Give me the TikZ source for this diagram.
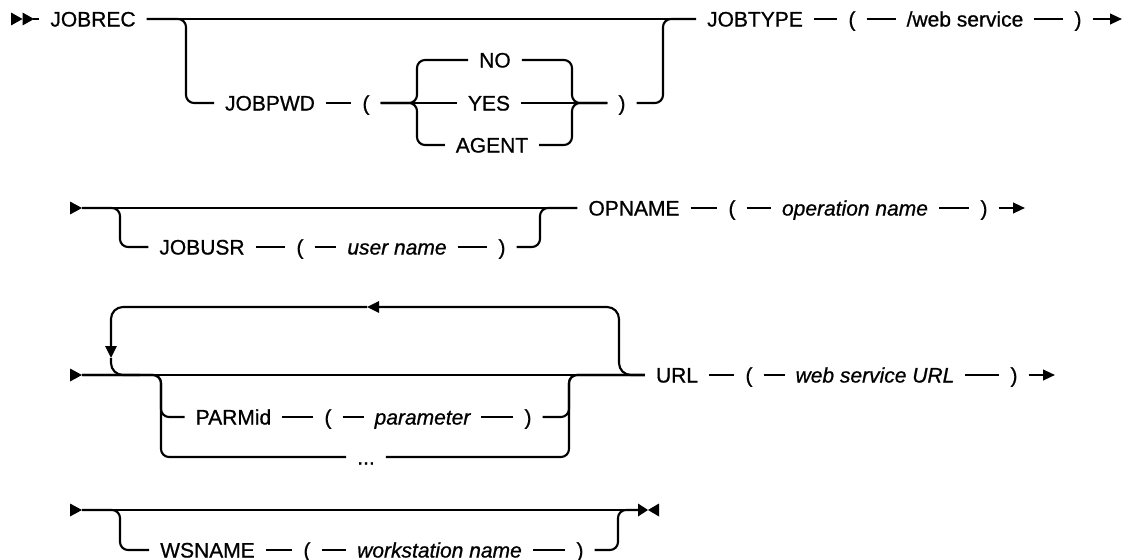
\documentclass[tikz,border=0pt]{standalone}
\usepackage{fontspec}
\setmainfont{Liberation Sans}[FakeBold=0.8, ItalicFeatures={FakeBold=0.8}]
\usetikzlibrary{arrows.meta}
\begin{document}
\begin{tikzpicture}[x=0.75pt,y=-0.75pt, line width=1.6pt,
  kw/.style={inner xsep=7.5pt, inner ysep=0pt, text height=11.3pt, text depth=0pt,
             font=\fontsize{15.75}{18}\selectfont},
  var/.style={kw, font=\fontsize{15.75}{18}\selectfont\itshape},
  rc/.style={rounded corners=6pt},
  rcl/.style={rounded corners=9pt},
  tip/.style={-{Triangle[length=9pt,width=8pt]}},
  ltip/.style={-{Triangle[length=9pt,width=8.5pt]}},
]
\useasboundingbox (0,0) rectangle (1125,560);

% ---------- Row 1 ----------
\fill (11,12.5) -- (22.5,19) -- (11,25.5) -- cycle;
\fill (22.5,12.5) -- (34,19) -- (22.5,25.5) -- cycle;
\coordinate (s1) at (33,19);
\coordinate (e1) at (1122,19);
\node[kw] (jobrec) at (93,19) {JOBREC};
\node[kw] (jobtype) at (755,19) {JOBTYPE};
\node[kw] (jobpwd) at (270,103) {JOBPWD};
\node[kw] (lp1) at (366,103) {(};
\node[kw] (no) at (495,60) {NO};
\node[kw] (yes) at (489,103) {YES};
\node[kw] (agent) at (492,145) {AGENT};
\node[kw] (rp1) at (622,103) {)};
\node[kw] (lp1b) at (852,19) {(};
\node[kw] (websvc) at (965,19) {/web service};
\node[kw] (rp1b) at (1078,19) {)};
\coordinate (b1) at (186,103);
\coordinate (r1) at (663,103);
\coordinate (cLt) at (417,60);
\coordinate (cLb) at (417,145);
\coordinate (cRm) at (572,103);

\draw (s1) -- (jobrec);
\draw (jobrec) -- (jobtype);
\draw[rc] (jobrec) -| (b1) -- (jobpwd);
\draw (jobpwd) -- (lp1);
\draw (lp1) -- (yes);
\draw[rc] (lp1) -| (cLt) -- (no);
\draw[rc] (lp1) -| (cLb) -- (agent);
\draw (yes) -- (rp1);
\draw[rc] (no) -| (cRm) -- (rp1);
\draw[rc] (agent) -| (cRm) -- (rp1);
\draw[rc] (rp1) -- (r1) |- (jobtype);
\draw (jobtype) -- (lp1b);
\draw (lp1b) -- (websvc);
\draw (websvc) -- (rp1b);
\draw[tip] (rp1b) -- (e1);

% ---------- Row 2 ----------
\fill (70,201.5) -- (82,208) -- (70,214.5) -- cycle;
\coordinate (s2) at (82,208);
\coordinate (e2) at (1025,208);
\node[kw] (opname) at (634,208) {OPNAME};
\node[kw] (jobusr) at (202,247) {JOBUSR};
\node[kw] (lp2) at (300,247) {(};
\node[var] (user) at (397,247) {user name};
\node[kw] (rp2) at (502,247) {)};
\node[kw] (lp2b) at (732,208) {(};
\node[var] (opn) at (855,208) {operation name};
\node[kw] (rp2b) at (984,208) {)};
\coordinate (b2) at (120,247);
\coordinate (r2) at (540,247);

\draw (s2) -- (opname);
\draw[rc] (s2) -| (b2) -- (jobusr);
\draw (jobusr) -- (lp2);
\draw (lp2) -- (user);
\draw (user) -- (rp2);
\draw[rc] (rp2) -- (r2) |- (opname);
\draw (opname) -- (lp2b);
\draw (lp2b) -- (opn);
\draw (opn) -- (rp2b);
\draw[tip] (rp2b) -- (e2);

% ---------- Row 3 ----------
\fill (70,368.5) -- (82,375) -- (70,381.5) -- cycle;
\coordinate (s3) at (82,375);
\coordinate (e3) at (1055,375);
\node[kw] (url) at (677,375) {URL};
\node[kw] (parmid) at (233.5,417) {PARMid};
\node[kw] (lp3) at (328,417) {(};
\node[var] (param) at (422.5,417) {parameter};
\node[kw] (rp3) at (528,417) {)};
\node[kw] (dots) at (366,457) {...};
\node[kw] (lp3b) at (749,375) {(};
\node[var] (wsurl) at (875,375) {web service URL};
\node[kw] (rp3b) at (1014,375) {)};
\coordinate (Lbr) at (619,375);
\coordinate (Ltop) at (367,307);
\coordinate (Ldn) at (111,358);
\coordinate (Lend) at (140,375);
\coordinate (b3a) at (161,417);
\coordinate (b3b) at (161,457);
\coordinate (c3a) at (569,417);
\coordinate (c3b) at (569,457);

\draw (s3) -- (url);
\draw[rcl, ltip] (url) -- (Lbr) |- (Ltop);
\draw[rcl, ltip] (Ltop) -| (Ldn);
\draw[rcl] (Ldn) |- (Lend);
\draw[rc] (s3) -| (b3a) -- (parmid);
\draw[rc] (s3) -| (b3b) -- (dots);
\draw (parmid) -- (lp3);
\draw (lp3) -- (param);
\draw (param) -- (rp3);
\draw[rc] (rp3) -- (c3a) |- (url);
\draw[rc] (dots) -- (c3b) |- (url);
\draw (url) -- (lp3b);
\draw (lp3b) -- (wsurl);
\draw (wsurl) -- (rp3b);
\draw[tip] (rp3b) -- (e3);

% ---------- Row 4 ----------
\fill (70,503.5) -- (82,510) -- (70,516.5) -- cycle;
\coordinate (s4) at (82,510);
\coordinate (e4) at (638,510);
\node[kw] (wsname) at (207.5,550) {WSNAME};
\node[kw] (lp4) at (307,550) {(};
\node[var] (wsn) at (439.5,550) {workstation name};
\node[kw] (rp4) at (580,550) {)};
\coordinate (b4) at (120,550);
\coordinate (c4) at (618,550);

\draw (s4) -- (e4);
\draw[rc] (s4) -| (b4) -- (wsname);
\draw (wsname) -- (lp4);
\draw (lp4) -- (wsn);
\draw (wsn) -- (rp4);
\draw[rc] (rp4) -- (c4) |- (e4);
\fill (638,503.5) -- (648,510) -- (638,516.5) -- cycle;
\fill (659,503.5) -- (648,510) -- (659,516.5) -- cycle;
\end{tikzpicture}
\end{document}
